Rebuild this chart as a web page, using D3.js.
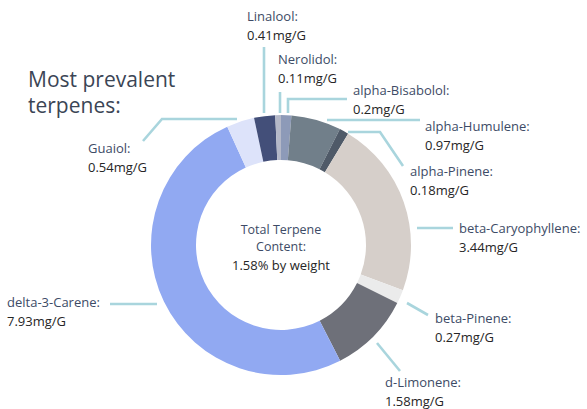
<!DOCTYPE html>
<html>
<head>
<meta charset="utf-8">
<script src="https://cdn.jsdelivr.net/npm/d3@7"></script>
<style>
  html, body { margin: 0; padding: 0; background: #ffffff; }
  svg { display: block; }
  text { font-family: "Open Sans", "Noto Sans", sans-serif; }
</style>
</head>
<body>
<svg id="chart" width="587" height="409"></svg>
<script>
// ---- data ----
const terpenes = ["alpha-Bisabolol", "alpha-Humulene", "alpha-Pinene", "beta-Caryophyllene",
  "beta-Pinene", "d-Limonene", "delta-3-Carene", "Guaiol", "Linalool", "Nerolidol"];
const amounts = [0.2, 0.97, 0.18, 3.44, 0.27, 1.58, 7.93, 0.54, 0.41, 0.11];
const valueLabels = ["0.2mg/G", "0.97mg/G", "0.18mg/G", "3.44mg/G", "0.27mg/G",
  "1.58mg/G", "7.93mg/G", "0.54mg/G", "0.41mg/G", "0.11mg/G"];
const sliceColors = ["#8d9ab8", "#717f8a", "#4f5a68", "#d6cfca", "#ebebeb",
  "#6e7079", "#91a9f2", "#dde3fa", "#434f79", "#b4b8c8"];
const titleLines = ["Most prevalent", "terpenes:"];
const centerLines = ["Total Terpene", "Content:", "1.58% by weight"];

// ---- layout (annotation placement) ----
const labelPos = {
  "Linalool":           {x: 247, y: 21,  line: [[264, 47], [264, 113]]},
  "Nerolidol":          {x: 278, y: 64,  line: [[280, 92], [280, 113]]},
  "alpha-Bisabolol":    {x: 353, y: 95,  line: [[347, 99], [288, 99], [288, 113]]},
  "alpha-Humulene":     {x: 425, y: 131, line: [[420, 120], [327, 120]]},
  "alpha-Pinene":       {x: 410, y: 176, line: [[348, 132], [380, 132], [403, 166]]},
  "beta-Caryophyllene": {x: 459, y: 233, line: [[417, 228], [453, 228]]},
  "beta-Pinene":        {x: 435, y: 323, line: [[407, 303], [428, 315]]},
  "d-Limonene":         {x: 385, y: 387, line: [[377, 343], [400, 371]]},
  "delta-3-Carene":     {x: 7,   y: 307, line: [[110, 304], [157, 304]]},
  "Guaiol":             {x: 88,  y: 153, line: [[143, 141], [162, 119], [237, 119]]}
};

const svg = d3.select("#chart");
const cx = 281, cy = 245, rOuter = 130, rInner = 85;

const pie = d3.pie().sort(null).value(d => d.value).startAngle(0).endAngle(2 * Math.PI);
const data = terpenes.map((name, i) => ({name, value: amounts[i], label: valueLabels[i], color: sliceColors[i]}));
const arcs = pie(data);
const arc = d3.arc().innerRadius(rInner).outerRadius(rOuter);

// leader lines
const lineGen = d3.line();
svg.append("g").selectAll("path.leader").data(data).join("path")
  .attr("class", "leader")
  .attr("d", d => lineGen(labelPos[d.name].line))
  .attr("fill", "none")
  .attr("stroke", "#a9d5dd")
  .attr("stroke-width", 2.6);

// donut
svg.append("g").attr("transform", `translate(${cx},${cy})`)
  .selectAll("path").data(arcs).join("path")
  .attr("d", arc)
  .attr("fill", d => d.data.color);

// labels
const lg = svg.append("g");
data.forEach(d => {
  const p = labelPos[d.name];
  lg.append("text").attr("x", p.x).attr("y", p.y)
    .attr("font-size", 13).attr("fill", "#3d4b66").text(d.name + ":");
  lg.append("text").attr("x", p.x).attr("y", p.y + 19)
    .attr("font-size", 13).attr("font-weight", 500).attr("fill", "#262626").text(d.label);
});

// title
svg.append("g").selectAll("text").data(titleLines).join("text")
  .attr("x", 28).attr("y", (d, i) => 87 + i * 26)
  .attr("font-size", 21).attr("font-weight", 500).attr("fill", "#3b4555").text(d => d);

// center text
svg.append("g").selectAll("text").data(centerLines).join("text")
  .attr("x", cx).attr("y", (d, i) => 234 + i * 17 + (i === 2 ? 2 : 0))
  .attr("text-anchor", "middle")
  .attr("font-size", (d, i) => i === 2 ? 13 : 12.5)
  .attr("font-weight", (d, i) => i === 2 ? 500 : 400)
  .attr("fill", (d, i) => i === 2 ? "#262626" : "#3d4b66")
  .text(d => d);
</script>
</body>
</html>
